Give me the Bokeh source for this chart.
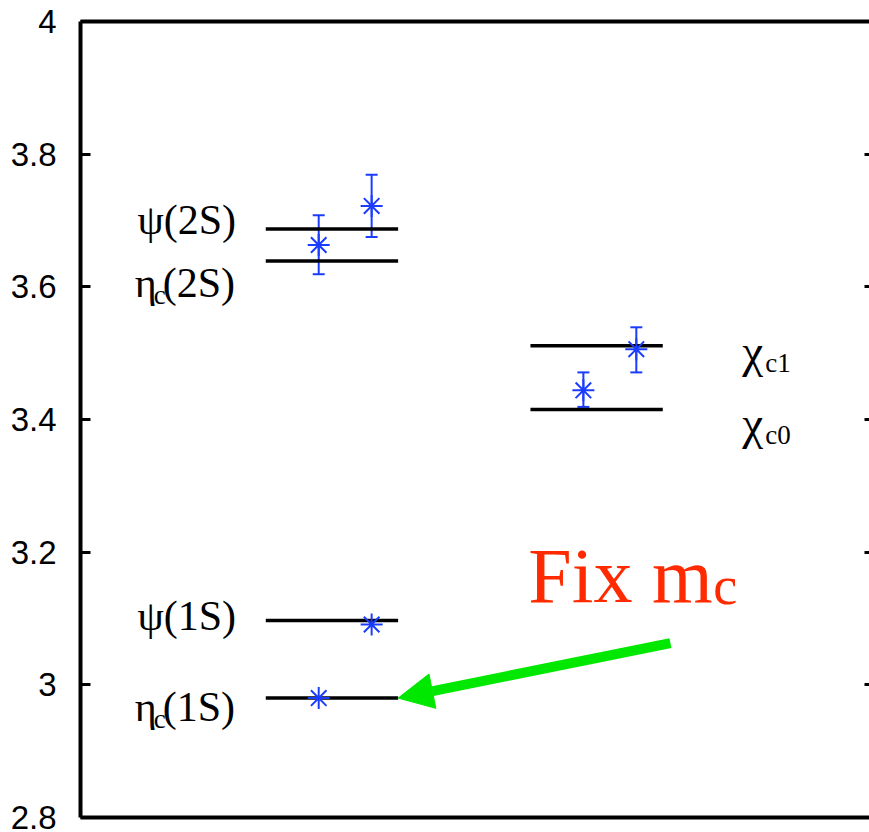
from bokeh.plotting import figure
from bokeh.models import (ColumnDataSource, FixedTicker, LinearAxis, Whisker, TeeHead,
                          Arrow, NormalHead, Range1d)
from bokeh.core.properties import value
from bokeh.embed import file_html
from bokeh.resources import INLINE

# ---- data ----
y_ticks = [2.8, 3.0, 3.2, 3.4, 3.6, 3.8, 4.0]
y_tick_labels = ["2.8", "3", "3.2", "3.4", "3.6", "3.8", "4"]

states = ["ηc(1S)", "ψ(1S)", "ηc(2S)", "ψ(2S)", "χc0", "χc1"]
exp_mass = [2.980, 3.097, 3.639, 3.687, 3.415, 3.511]
level_x0 = [0.7, 0.7, 0.7, 0.7, 1.7, 1.7]
level_x1 = [1.2, 1.2, 1.2, 1.2, 2.2, 2.2]

lat_x = [0.9, 1.1, 0.9, 1.1, 1.9, 2.1]
lat_mass = [2.980, 3.091, 3.663, 3.722, 3.444, 3.506]
lat_lower = [2.980, 3.091, 3.619, 3.675, 3.419, 3.471]
lat_upper = [2.980, 3.091, 3.708, 3.769, 3.471, 3.539]

# label pieces: (state index, text, is_subscript)
label_pieces = [
    (0, "η", False), (0, "c", True), (0, "(1S)", False),
    (1, "ψ(1S)", False),
    (2, "η", False), (2, "c", True), (2, "(2S)", False),
    (3, "ψ(2S)", False),
    (4, "χ", False), (4, "c0", True),
    (5, "χ", False), (5, "c1", True),
]
annot_main = "Fix m"
annot_sub = "c"

# ---- layout / style ----
BLUE = "#1a3cff"
GREEN = "#00e800"
RED = "#ff2a00"
FONT = "Liberation Serif"
MAIN_SIZE = "42px"
SUB_SIZE = "27px"
label_x = [0.205, 0.215, 0.205, 0.215, 2.50, 2.50]
label_dy = [9, -4, 22, -9, 13, 5]
piece_dx = [0, 19, 28, 0, 0, 19, 28, 0, 0, 23, 0, 23]
piece_size = [MAIN_SIZE, SUB_SIZE, MAIN_SIZE, MAIN_SIZE, MAIN_SIZE, SUB_SIZE, MAIN_SIZE,
              MAIN_SIZE, "47px", SUB_SIZE, "47px", SUB_SIZE]
sub_dy = 12

p = figure(width=869, height=832, x_range=Range1d(0, 2.981), y_range=Range1d(2.8, 4.0),
           output_backend="svg", toolbar_location=None,
           x_axis_location=None, y_axis_location=None,
           min_border_left=80, min_border_right=0, min_border_top=21, min_border_bottom=15)
p.outline_line_color = None
p.xgrid.visible = False
p.ygrid.visible = False
p.background_fill_color = "white"
p.border_fill_color = "white"

left = LinearAxis(ticker=FixedTicker(ticks=y_ticks),
                  major_label_overrides=dict(zip(y_ticks, y_tick_labels)),
                  axis_line_width=4, axis_line_color="black",
                  major_tick_in=10, major_tick_out=0, major_tick_line_width=3,
                  minor_tick_line_color=None,
                  major_label_text_font="Liberation Sans", major_label_text_font_size="33px",
                  major_label_text_color="black", major_label_standoff=24)
p.add_layout(left, "left")

right = LinearAxis(ticker=FixedTicker(ticks=y_ticks), axis_line_color=None,
                   major_tick_in=5, major_tick_out=0, major_tick_line_width=3,
                   minor_tick_line_color=None, major_label_text_font_size="0px",
                   major_label_text_color=None, major_label_standoff=0)
p.add_layout(right, "right")

for loc in ("above", "below"):
    ax = LinearAxis(ticker=FixedTicker(ticks=[]), axis_line_width=4, axis_line_color="black",
                    major_tick_in=0, major_tick_out=0, minor_tick_line_color=None,
                    major_label_text_font_size="0px", major_label_text_color=None,
                    major_label_standoff=0)
    p.add_layout(ax, loc)

# experimental levels
p.segment(x0=level_x0, y0=exp_mass, x1=level_x1, y1=exp_mass, line_color="black", line_width=3.5)

# lattice points with error bars
err_idx = [i for i in range(len(lat_x)) if lat_upper[i] > lat_lower[i]]
err_src = ColumnDataSource(dict(x=[lat_x[i] for i in err_idx],
                                lo=[lat_lower[i] for i in err_idx],
                                hi=[lat_upper[i] for i in err_idx]))
p.add_layout(Whisker(base="x", lower="lo", upper="hi", source=err_src,
                     line_color=BLUE, line_width=2,
                     upper_head=TeeHead(size=12, line_color=BLUE, line_width=2),
                     lower_head=TeeHead(size=12, line_color=BLUE, line_width=2)))
p.scatter(x=lat_x, y=lat_mass, marker="asterisk", size=22, line_color=BLUE, line_width=2)

# state labels
for k, (si, txt, is_sub) in enumerate(label_pieces):
    p.text(x=[label_x[si]], y=[exp_mass[si]], text=[txt],
           x_offset=piece_dx[k], y_offset=label_dy[si] + (sub_dy if is_sub else 0),
           text_font=value(FONT), text_font_size=piece_size[k],
           text_color="black", text_align="left", text_baseline="alphabetic")

# "Fix m_c" annotation and arrow
ann_x, ann_y = 1.692, 3.126
p.text(x=[ann_x], y=[ann_y], text=[annot_main], y_offset=-26,
       text_font=value(FONT), text_font_size="78px",
       text_color=RED, text_align="left", text_baseline="alphabetic")
p.text(x=[ann_x], y=[ann_y], text=[annot_sub], x_offset=185, y_offset=-15,
       text_font=value(FONT), text_font_size="54px",
       text_color=RED, text_align="left", text_baseline="alphabetic")

p.add_layout(Arrow(end=NormalHead(size=35, fill_color=GREEN, line_color=GREEN),
                   x_start=2.229, y_start=3.063, x_end=level_x1[0], y_end=exp_mass[0],
                   line_color=GREEN, line_width=10))

open("out.html", "w").write(file_html(p, INLINE))
